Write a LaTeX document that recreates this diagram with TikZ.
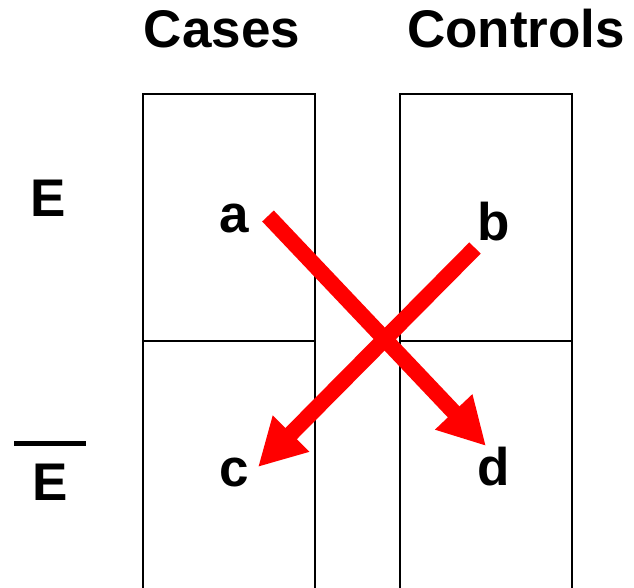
\documentclass[tikz,border=0pt]{standalone}
\usepackage{fontspec}
\setmainfont{Liberation Sans}
\usetikzlibrary{arrows.meta}
\begin{document}
\begin{tikzpicture}[x=1pt,y=-1pt,
  lbl/.style={font=\fontsize{53}{60}\selectfont\bfseries, anchor=base, inner sep=0pt},
  cell/.style={line width=1.5pt, black},
  cross/.style={line width=16pt, red, -{Triangle[length=47pt,width=48pt]}}]
\useasboundingbox (0,0) rectangle (634,588);
% headings
\node[lbl] (cases) at (222,48) {Cases};
\node[lbl] (controls) at (516,48) {Controls};
% row labels
\node[lbl] (E) at (48,216) {E};
\node[lbl] (Ebar) at (50,500) {E};
\draw[line width=5pt] (14,443) -- (86,443);
% boxes
\draw[cell] (143,588) -- (143,94) -- (315,94) -- (315,588);
\draw[cell] (143,341) -- (315,341);
\draw[cell] (400,588) -- (400,94) -- (572,94) -- (572,588);
\draw[cell] (400,341) -- (572,341);
% cell letters
\node[lbl] (a) at (234,232) {a};
\node[lbl] (b) at (494,240) {b};
\node[lbl] (c) at (234,486) {c};
\node[lbl] (d) at (494,485) {d};
% arrows
\coordinate (aS) at (268,216);
\coordinate (dT) at (486,446);
\coordinate (bS) at (475,248);
\coordinate (cT) at (258,467);
\draw[cross] (aS) -- (dT);
\draw[cross] (bS) -- (cT);
\end{tikzpicture}
\end{document}
